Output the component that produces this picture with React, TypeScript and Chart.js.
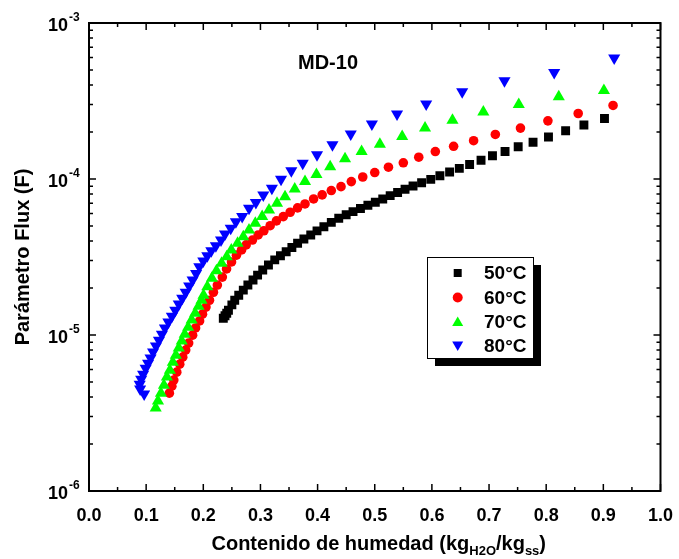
import React, { useEffect, useRef } from 'react';
import { Chart, registerables } from 'chart.js';

Chart.register(...registerables);

const FONT = "'Liberation Sans', Arial, Helvetica, sans-serif";

// Moisture content (kg H2O / kg ss) vs flux parameter F
const series50: [number, number][] = [
  [0.235, 1.28e-5], [0.238, 1.33e-5], [0.241, 1.38e-5], [0.244, 1.44e-5], [0.25, 1.56e-5], [0.255, 1.67e-5],
  [0.262, 1.8e-5], [0.27, 1.94e-5], [0.278, 2.09e-5], [0.287, 2.25e-5], [0.295, 2.42e-5],
  [0.304, 2.61e-5], [0.314, 2.81e-5], [0.325, 3.03e-5], [0.335, 3.22e-5], [0.345, 3.42e-5],
  [0.355, 3.64e-5], [0.365, 3.87e-5], [0.376, 4.12e-5], [0.388, 4.38e-5], [0.399, 4.65e-5],
  [0.411, 4.94e-5], [0.424, 5.27e-5], [0.437, 5.6e-5], [0.45, 5.9e-5], [0.462, 6.18e-5], [0.475, 6.47e-5],
  [0.488, 6.78e-5], [0.501, 7.1e-5], [0.514, 7.45e-5], [0.527, 7.82e-5], [0.54, 8.2e-5], [0.553, 8.6e-5],
  [0.567, 9.02e-5], [0.582, 9.46e-5], [0.598, 9.95e-5], [0.614, 1.05e-4], [0.631, 1.11e-4],
  [0.648, 1.17e-4], [0.666, 1.24e-4], [0.686, 1.32e-4], [0.706, 1.41e-4], [0.728, 1.5e-4],
  [0.751, 1.61e-4], [0.777, 1.72e-4], [0.804, 1.86e-4], [0.834, 2.04e-4], [0.866, 2.22e-4],
  [0.902, 2.44e-4],
];

const series60: [number, number][] = [
  [0.1406, 4.24e-6], [0.145, 4.7e-6], [0.1484, 5.14e-6], [0.1536, 5.78e-6], [0.1588, 6.5e-6],
  [0.164, 7.21e-6], [0.1692, 8.0e-6], [0.1744, 8.87e-6], [0.1813, 9.98e-6], [0.1865, 1.11e-5],
  [0.1935, 1.23e-5], [0.1986, 1.36e-5], [0.2047, 1.51e-5], [0.2108, 1.67e-5], [0.2177, 1.88e-5],
  [0.2246, 2.09e-5], [0.2333, 2.35e-5], [0.2407, 2.65e-5], [0.2494, 2.94e-5], [0.258, 3.25e-5],
  [0.267, 3.51e-5], [0.275, 3.78e-5], [0.286, 4.06e-5], [0.296, 4.38e-5], [0.306, 4.66e-5],
  [0.317, 5.02e-5], [0.328, 5.39e-5], [0.34, 5.74e-5], [0.352, 6.12e-5], [0.365, 6.53e-5],
  [0.378, 6.92e-5], [0.393, 7.45e-5], [0.408, 7.91e-5], [0.424, 8.43e-5], [0.441, 8.93e-5],
  [0.459, 9.62e-5], [0.479, 1.03e-4], [0.5, 1.1e-4], [0.524, 1.19e-4], [0.55, 1.27e-4],
  [0.577, 1.38e-4], [0.606, 1.5e-4], [0.638, 1.62e-4], [0.673, 1.76e-4], [0.711, 1.93e-4],
  [0.755, 2.12e-4], [0.803, 2.36e-4], [0.856, 2.63e-4], [0.917, 2.96e-4],
];

const series70: [number, number][] = [
  [0.1167, 3.4e-6], [0.1207, 3.77e-6], [0.1259, 4.24e-6], [0.1311, 4.77e-6], [0.1363, 5.37e-6],
  [0.1415, 5.95e-6], [0.1467, 6.7e-6], [0.1519, 7.43e-6], [0.1571, 8.24e-6], [0.1623, 9.14e-6],
  [0.1675, 1.01e-5], [0.1735, 1.12e-5], [0.1796, 1.25e-5], [0.1857, 1.38e-5], [0.1917, 1.53e-5],
  [0.1969, 1.67e-5], [0.2004, 1.8e-5], [0.207, 2.04e-5], [0.215, 2.31e-5], [0.223, 2.58e-5],
  [0.232, 2.88e-5], [0.241, 3.17e-5], [0.249, 3.51e-5], [0.26, 3.87e-5], [0.27, 4.27e-5],
  [0.28, 4.71e-5], [0.291, 5.2e-5], [0.303, 5.74e-5], [0.315, 6.33e-5], [0.329, 6.99e-5],
  [0.343, 7.7e-5], [0.36, 8.63e-5], [0.378, 9.62e-5], [0.398, 1.07e-4], [0.422, 1.2e-4],
  [0.448, 1.35e-4], [0.477, 1.5e-4], [0.509, 1.67e-4], [0.548, 1.87e-4], [0.588, 2.12e-4],
  [0.636, 2.38e-4], [0.69, 2.69e-4], [0.752, 3.0e-4], [0.822, 3.37e-4], [0.901, 3.69e-4],
];

const series80: [number, number][] = [
  [0.0965, 4.18e-6], [0.0895, 4.5e-6], [0.0887, 4.84e-6], [0.0913, 5.21e-6], [0.0947, 5.61e-6],
  [0.0991, 6.13e-6], [0.1034, 6.6e-6], [0.1077, 7.11e-6], [0.1121, 7.77e-6], [0.1172, 8.49e-6],
  [0.1224, 9.27e-6], [0.1276, 1.01e-5], [0.1328, 1.11e-5], [0.1389, 1.21e-5], [0.145, 1.32e-5],
  [0.151, 1.44e-5], [0.1571, 1.58e-5], [0.1631, 1.72e-5], [0.1692, 1.88e-5], [0.1753, 2.06e-5],
  [0.1813, 2.25e-5], [0.1874, 2.48e-5], [0.193, 2.74e-5], [0.2, 2.98e-5], [0.207, 3.22e-5],
  [0.214, 3.47e-5], [0.222, 3.74e-5], [0.231, 4.07e-5], [0.238, 4.44e-5], [0.248, 4.83e-5],
  [0.257, 5.33e-5], [0.268, 5.74e-5], [0.28, 6.5e-5], [0.292, 7.06e-5], [0.305, 7.91e-5],
  [0.32, 8.73e-5], [0.336, 9.97e-5], [0.354, 1.13e-4], [0.374, 1.26e-4], [0.399, 1.43e-4],
  [0.426, 1.66e-4], [0.458, 1.94e-4], [0.495, 2.25e-4], [0.539, 2.61e-4], [0.59, 3.03e-4],
  [0.653, 3.62e-4], [0.727, 4.26e-4], [0.814, 4.82e-4], [0.919, 5.96e-4],
];

const seriesLabels = ['50°C', '60°C', '70°C', '80°C'];
const seriesColors = ['#000000', '#ff0000', '#00ff00', '#0000ff'];
const seriesMarkers = ['square', 'circle', 'up', 'down'];
const yDecadeExponents = [-6, -5, -4, -3];
const xRange = [0, 1];
const chartTitle = 'MD-10';
const yAxisTitle = 'Parámetro Flux (F)';
const xTitleParts: { text: string; sub: boolean }[] = [
  { text: 'Contenido de humedad (kg', sub: false },
  { text: 'H2O', sub: true },
  { text: '/kg', sub: false },
  { text: 'ss', sub: true },
  { text: ')', sub: false },
];

function drawMarker(ctx: CanvasRenderingContext2D, kind: string, x: number, y: number, color: string) {
  ctx.fillStyle = color;
  ctx.beginPath();
  if (kind === 'square') {
    ctx.rect(x - 4, y - 4, 8, 8);
  } else if (kind === 'circle') {
    ctx.arc(x, y, 5, 0, Math.PI * 2);
  } else if (kind === 'up') {
    ctx.moveTo(x, y - 5);
    ctx.lineTo(x + 5.5, y + 4.5);
    ctx.lineTo(x - 5.5, y + 4.5);
    ctx.closePath();
  } else {
    ctx.moveTo(x, y + 5);
    ctx.lineTo(x + 5.5, y - 4.5);
    ctx.lineTo(x - 5.5, y - 4.5);
    ctx.closePath();
  }
  ctx.fill();
}

const decorPlugin = {
  id: 'decor',
  afterDraw(chart: any) {
    const { ctx, chartArea: a } = chart;
    const xs = chart.scales.x;
    const ys = chart.scales.y;
    ctx.save();

    // frame
    ctx.strokeStyle = '#000';
    ctx.lineWidth = 2;
    ctx.strokeRect(a.left, a.top, a.right - a.left, a.bottom - a.top);

    // ticks (inward, mirrored)
    ctx.lineWidth = 1.5;
    ctx.beginPath();
    for (let i = 0; i <= 20; i++) {
      const px = xs.getPixelForValue(i * 0.05);
      const len = i % 2 === 0 ? 7 : 4;
      ctx.moveTo(px, a.bottom);
      ctx.lineTo(px, a.bottom - len);
      ctx.moveTo(px, a.top);
      ctx.lineTo(px, a.top + len);
    }
    for (let e = yDecadeExponents[0]; e <= yDecadeExponents[yDecadeExponents.length - 1]; e++) {
      for (let m = 1; m < 10; m++) {
        if (e === yDecadeExponents[yDecadeExponents.length - 1] && m > 1) break;
        const py = ys.getPixelForValue(m * Math.pow(10, e));
        const len = m === 1 ? 7 : 4;
        ctx.moveTo(a.left, py);
        ctx.lineTo(a.left + len, py);
        ctx.moveTo(a.right, py);
        ctx.lineTo(a.right - len, py);
      }
    }
    ctx.stroke();

    // y tick labels 10^n
    ctx.fillStyle = '#000';
    ctx.textBaseline = 'middle';
    for (const e of yDecadeExponents) {
      const py = ys.getPixelForValue(Math.pow(10, e));
      ctx.font = `bold 18px ${FONT}`;
      ctx.textAlign = 'right';
      ctx.fillText('10', a.left - 21, py + 3);
      ctx.font = `bold 12px ${FONT}`;
      ctx.textAlign = 'left';
      ctx.fillText(String(e), a.left - 20, py - 5);
    }

    // x axis title with subscripts
    const bigFont = `bold 20px ${FONT}`;
    const subFont = `bold 13px ${FONT}`;
    let total = 0;
    const widths = xTitleParts.map((p) => {
      ctx.font = p.sub ? subFont : bigFont;
      const w = ctx.measureText(p.text).width;
      total += w;
      return w;
    });
    let cx = (a.left + a.right) / 2 - total / 2 + 4;
    ctx.textAlign = 'left';
    ctx.textBaseline = 'alphabetic';
    xTitleParts.forEach((p, i) => {
      ctx.font = p.sub ? subFont : bigFont;
      ctx.fillText(p.text, cx, p.sub ? 555 : 550);
      cx += widths[i];
    });

    // chart title
    ctx.font = `bold 20px ${FONT}`;
    ctx.textAlign = 'center';
    ctx.textBaseline = 'middle';
    ctx.fillText(chartTitle, 328, 63);

    // legend box with shadow
    const lx = 427, ly = 257, lw = 106, lh = 101;
    ctx.fillStyle = '#000';
    ctx.fillRect(lx + 8, ly + 8, lw, lh);
    ctx.fillStyle = '#fff';
    ctx.fillRect(lx, ly, lw, lh);
    ctx.strokeStyle = '#000';
    ctx.lineWidth = 1;
    ctx.strokeRect(lx + 0.5, ly + 0.5, lw, lh);
    const rowYs = [273, 297.5, 321.5, 346];
    seriesLabels.forEach((lab, i) => {
      drawMarker(ctx, seriesMarkers[i], 457.7, rowYs[i], seriesColors[i]);
      ctx.fillStyle = '#000';
      ctx.font = `bold 19px ${FONT}`;
      ctx.textAlign = 'left';
      ctx.textBaseline = 'middle';
      ctx.fillText(lab, 484, rowYs[i] + 1);
    });

    ctx.restore();
  },
};

export default function App() {
  const ref = useRef<HTMLCanvasElement>(null);
  useEffect(() => {
    const toPts = (s: [number, number][]) => s.map(([x, y]) => ({ x, y }));
    const chart = new Chart(ref.current as HTMLCanvasElement, {
      type: 'scatter',
      data: {
        datasets: [
          { label: seriesLabels[0], data: toPts(series50), pointStyle: 'rect', pointRadius: 6.3, backgroundColor: seriesColors[0], borderWidth: 0, order: 4 },
          { label: seriesLabels[1], data: toPts(series60), pointStyle: 'circle', pointRadius: 4.8, backgroundColor: seriesColors[1], borderWidth: 0, order: 3 },
          { label: seriesLabels[2], data: toPts(series70), pointStyle: 'triangle', pointRadius: 7, backgroundColor: seriesColors[2], borderWidth: 0, order: 2 },
          { label: seriesLabels[3], data: toPts(series80), pointStyle: 'triangle', rotation: 180, pointRadius: 7, backgroundColor: seriesColors[3], borderWidth: 0, order: 1 },
        ] as any,
      },
      options: {
        responsive: false,
        maintainAspectRatio: false,
        devicePixelRatio: 1,
        animation: false,
        events: [],
        layout: { padding: { top: 23, right: 12, left: 0, bottom: 0 } },
        plugins: { legend: { display: false }, tooltip: { enabled: false }, title: { display: false } },
        scales: {
          x: {
            type: 'linear',
            min: xRange[0],
            max: xRange[1],
            ticks: {
              stepSize: 0.1,
              autoSkip: false,
              maxRotation: 0,
              padding: 6,
              color: '#000',
              font: { family: FONT, size: 18, weight: 'bold' },
              callback: (v: any) => Number(v).toFixed(1),
            },
            grid: { display: false },
            border: { display: false },
            afterFit: (s: any) => { s.height = 68; },
          },
          y: {
            type: 'logarithmic',
            min: 1e-6,
            max: 1e-3,
            ticks: { display: false },
            grid: { display: false },
            border: { display: false },
            title: {
              display: true,
              text: yAxisTitle,
              color: '#000',
              font: { family: FONT, size: 20, weight: 'bold' },
              padding: { top: 11, bottom: 0 },
            },
            afterFit: (s: any) => { s.width = 89; },
          },
        },
      } as any,
      plugins: [decorPlugin],
    });
    return () => chart.destroy();
  }, []);
  return (
    <div style={{ position: 'fixed', left: 0, top: 0, width: 679, height: 559, background: '#fff' }}>
      <canvas ref={ref} width={679} height={559} style={{ display: 'block', width: 679, height: 559 }} />
    </div>
  );
}
